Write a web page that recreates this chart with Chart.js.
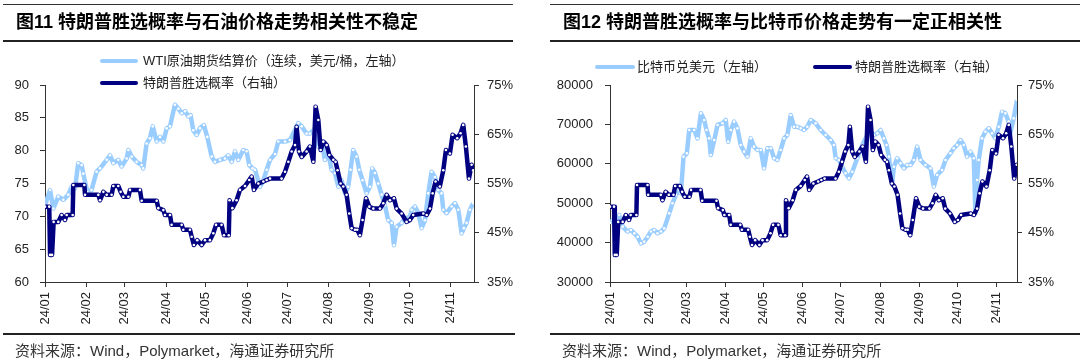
<!DOCTYPE html>
<html><head><meta charset="utf-8">
<script src="https://cdn.jsdelivr.net/npm/chart.js@4.4.1/dist/chart.umd.min.js"></script>
<style>
html,body{margin:0;padding:0;background:#fff;}
#wrap{position:relative;width:1080px;height:360px;overflow:hidden;font-family:"Liberation Sans","Noto Sans CJK SC",sans-serif;}
canvas{position:absolute;top:0;}
.title{position:absolute;top:4px;height:38px;box-sizing:border-box;border-top:1px solid #333;border-bottom:2px solid #222;font-weight:bold;font-size:18px;line-height:35px;color:#000;padding-left:13px;white-space:nowrap;}
.src{position:absolute;top:333px;height:27px;box-sizing:border-box;border-top:2px solid #222;font-size:15px;line-height:31px;color:#333;padding-left:12px;white-space:nowrap;}
.lg{position:absolute;font-size:13px;color:#222;white-space:nowrap;height:16px;line-height:16px;}
.sw{position:absolute;height:4px;border-radius:2px;}
</style></head>
<body><div id="wrap">
<canvas id="c1" width="540" height="360" style="left:0"></canvas>
<canvas id="c2" width="540" height="360" style="left:540px"></canvas>
<div class="title" style="left:3px;width:510px">图11 特朗普胜选概率与石油价格走势相关性不稳定</div>
<div class="title" style="left:550px;width:530px">图12 特朗普胜选概率与比特币价格走势有一定正相关性</div>
<div class="src" style="left:3px;width:512px">资料来源：Wind，Polymarket，海通证券研究所</div>
<div class="src" style="left:550px;width:530px">资料来源：Wind，Polymarket，海通证券研究所</div>
<div id="lg"></div>
</div>
<script>
// ---- tick labels / categories ----
const monthDays = [0,31,60,91,121,152,182,213,244,274,305]; // day-of-2024 (0 = Jan 1)
const monthLabels = ['24/01','24/02','24/03','24/04','24/05','24/06','24/07','24/08','24/09','24/10','24/11'];

// ---- Trump win probability (%), Polymarket ----
const probDays = [0,3.2,3.8,5.3,6.5,10,12.5,15,16.3,20.8,21.3,29.6,30.1,40.1,41.4,43.9,46.4,50.1,51.4,55.1,56.9,58.9,62.7,63.9,71.4,72.7,84,85.2,89,90.2,94,95.2,102.8,104,109,110.3,112,114.5,117.8,120.3,124,126.6,128.6,132.8,134.6,138.2,138.8,140.9,144.1,146.6,150.4,153.6,155.4,157.1,160.4,164.2,166.7,169.2,177.9,180.5,183,185.5,188,189.2,191,193,196.7,199.2,201.8,203.5,205.5,207.3,209.3,211.8,213.8,216.8,218.5,220,222.3,224.3,226.8,228.8,230.6,233.1,234.8,236.8,238.8,241.4,243.9,246.9,251.9,254.4,256.9,259.4,262.4,264.4,268.2,271.9,274.4,276.9,284.5,287,289.5,291.5,293.7,296.9,299.5,301.5,304.5,306.5,310,312.5,314.5,316.5,318.8,320.8,322];
const probValues = [50.3,50.3,40.5,40.5,47.2,47.2,48.6,47.6,48.6,48.6,54.7,54.7,52.7,52.7,51.6,53.3,52.7,52.7,54.5,54.5,53.3,52.3,52.3,53.7,53.7,51.5,51.5,50.0,49.6,48.6,48.6,46.6,46.6,45.6,45.6,44.2,42.5,43.5,42.5,43.5,43.5,44.9,46.6,46.6,44.5,44.5,51.6,50.0,51.6,53.7,54.5,55.7,56.4,53.7,55.0,55.4,55.7,56.0,56.0,57.4,59.4,61.5,62.8,66.5,61.5,60.4,61.5,62.5,59.4,70.6,67.9,61.8,63.5,62.8,60.8,59.8,59.4,57.7,55.0,54.4,52.7,48.9,45.9,45.6,45.6,44.5,47.6,52.0,50.3,49.9,49.9,51.0,52.7,51.6,52.0,49.9,48.9,47.2,47.6,48.6,48.9,48.6,49.9,53.0,55.4,54.4,57.7,61.8,61.1,64.9,64.2,65.2,66.9,62.5,56.0,58.8,57.7];

// ---- WTI crude futures settlement (USD/bbl) ----
const wtiDays = [0,3.8,6.3,10,13.8,17.5,20,22.6,25,27.6,28.8,31.8,35,38.8,41.4,46.4,48.9,51.4,55.1,57.6,61.4,62.7,65.2,68.9,72.7,73.9,76.4,78.9,81,84,86.5,89,91.5,94,97.7,100.3,102.8,105.3,107.8,109.5,111.5,114,116.5,119.5,122,125.3,127.8,131.6,135.3,137.8,140.4,142.9,145.4,149.1,151.6,153.6,156.1,157.9,161.7,164.2,166.7,169.2,173,175.4,180.5,184.2,188,190.5,193,196.7,199.2,201.8,205.5,208,210.5,213,215.5,218,220.6,223,225.6,228,229.8,231.8,234.3,236.3,238.8,241.8,244.4,246.1,248.1,250.6,253.1,255.6,258.1,260.7,262.4,264.4,268.2,270.7,274.4,275.7,278.2,280.7,283.2,285.7,288.2,290.7,293.2,295.7,298.2,299.5,302,305.8,308.3,310.8,313.3,315,317,319.5,322];
const wtiValues = [71.7,74.0,71.2,73.0,72.5,73.3,74.5,74.3,78.1,77.8,76.5,73.7,74.0,76.8,77.3,78.6,79.3,78.1,78.6,77.6,78.8,80.1,79.1,78.3,77.8,77.3,81.1,81.9,83.7,81.4,82.1,81.4,83.4,83.7,87.0,86.4,85.7,86.0,85.2,85.4,83.1,82.4,83.4,83.9,82.1,79.1,78.3,78.6,78.8,79.3,78.3,79.9,78.6,80.1,79.9,77.8,77.3,77.1,74.5,75.5,77.1,78.6,79.5,81.4,81.4,81.6,83.2,84.2,83.7,82.6,82.6,83.1,80.6,81.4,78.6,79.6,77.1,76.6,74.5,75.5,73.5,74.5,77.1,80.1,79.1,77.1,75.5,73.5,74.5,77.3,76.6,75.0,73.3,71.7,69.4,69.0,65.6,68.4,69.0,69.7,69.9,71.0,71.5,70.5,68.2,69.4,73.5,76.8,76.0,74.0,73.5,71.0,70.5,71.5,72.0,71.0,67.4,68.2,69.0,71.0,72.0];

// ---- Bitcoin in USD ----
const btcDays = [0,2.1,4.7,7.3,10,13.9,16.5,19.2,21.8,24.4,27,29.7,32.3,34.9,37.5,40.2,42.8,46.7,49.3,52,54.6,55.9,58,60.6,62.5,66.4,69,71.7,74.3,76.1,78.2,79.5,82.2,84.8,88.7,91.3,93.2,95.3,97.9,100.5,103.1,105.8,108.4,111,113.6,116.3,118.9,121.5,124.1,126.8,129.4,132,134.6,137.3,139.9,142.5,145.1,147.8,150.4,153,155.6,158.3,162.2,166.1,170.1,174.1,176.6,178,180.6,183.2,185.8,188.5,191.1,195,199,201.6,205.5,208.1,210.8,213.4,216,218.1,220,221.3,222.6,223.9,226.5,229.1,231.8,234.4,237,239.6,242.3,244.9,248.8,252.8,255.4,258,261.9,264.6,268.5,271.1,273.8,276.4,279,281.6,284.3,286.9,288.2,289.5,290.8,293.4,296.1,298.7,301.3,303.9,306.6,309.2,311.8,314.4,315.7,318.4,321];
const btcValues = [45000,45700,44900,47000,44050,42800,43200,42350,41500,39800,40240,41500,42800,43200,42350,42800,43600,47430,49970,52080,53350,52500,61810,62660,68580,68580,66460,72810,71120,68580,66460,62230,66040,69850,70270,71120,65620,68580,70700,69000,64770,63080,61810,66460,64350,63500,63500,58850,63930,63930,61390,60970,63500,66460,67310,72380,69420,69420,69000,68580,69420,71120,70270,68580,67310,66040,64770,61390,60970,59270,57580,56310,58000,61390,64770,66460,68160,67310,67730,68580,66460,64770,61810,57580,55040,59270,61390,60120,58850,59700,59700,60970,64350,60970,59700,58850,54200,57160,58430,60970,62660,63930,64770,66040,64770,61810,63080,61390,47430,55890,60970,66460,68160,69000,67730,66460,69420,73230,72810,70700,67730,71540,76190];

const LIGHT = '#99ccff', NAVY = '#000080';
const pts = (d, v) => d.map((x, i) => ({x, y: v[i]}));
const tickFont = {family: 'Liberation Sans', size: 13};

function axisY(pos, min, max, step, fmt, width, pad) {
  return {
    type: 'linear', position: pos, min, max,
    ticks: {stepSize: step, padding: pad, color: '#222', font: tickFont, callback: fmt},
    grid: {drawOnChartArea: false, drawTicks: true, tickLength: 5, color: '#333'},
    border: {display: true, color: '#333', width: 1},
    afterFit: s => { s.width = width; }
  };
}

function lineStyle(color) {
  return {borderColor: color, borderWidth: 4.5, tension: 0, borderJoinStyle: 'round',
          pointRadius: 1.3, pointBorderWidth: 0, pointBackgroundColor: '#ffffff'};
}

function build(id, xMax, leftSet, leftAxis, leftW, leftPad, rightW, rightPad) {
  new Chart(document.getElementById(id), {
    type: 'line',
    data: {datasets: [
      Object.assign({label: 'prob', data: pts(probDays, probValues), yAxisID: 'yR', order: 0}, lineStyle(NAVY)),
      Object.assign({label: leftSet.label, data: pts(leftSet.days, leftSet.values), yAxisID: 'yL', order: 1}, lineStyle(LIGHT))
    ]},
    options: {
      responsive: false, animation: false, devicePixelRatio: 1, events: [],
      layout: {padding: {top: 85, left: 0, right: 0, bottom: 0}},
      plugins: {legend: {display: false}, tooltip: {enabled: false}},
      scales: {
        x: {
          type: 'linear', min: 0, max: xMax,
          afterBuildTicks: s => { s.ticks = monthDays.map(v => ({value: v})); },
          ticks: {autoSkip: false, minRotation: 90, maxRotation: 90, padding: 5, color: '#222', font: tickFont,
                  callback: v => monthLabels[monthDays.indexOf(v)]},
          grid: {drawOnChartArea: false, drawTicks: true, tickLength: 5, color: '#333'},
          border: {display: true, color: '#333', width: 1},
          afterFit: s => { s.height = 78; }
        },
        yL: axisY('left', leftAxis.min, leftAxis.max, leftAxis.step, leftAxis.fmt, leftW, leftPad),
        yR: axisY('right', 35, 75, 10, v => v + '%', rightW, rightPad)
      }
    }
  });
}

build('c1', 322.6, {label: 'WTI', days: wtiDays, values: wtiValues},
      {min: 60, max: 90, step: 5, fmt: v => String(v)}, 45, 11, 66, 8);
build('c2', 321, {label: 'BTC', days: btcDays, values: btcValues},
      {min: 30000, max: 80000, step: 10000, fmt: v => String(v)}, 70, 12, 63, 6);

// ---- legends ----
const legends = [
  {x: 100, y: 61, w: 38, color: LIGHT, text: 'WTI原油期货结算价（连续，美元/桶，左轴）', tx: 143},
  {x: 100, y: 83, w: 38, color: NAVY, text: '特朗普胜选概率（右轴）', tx: 143},
  {x: 595, y: 67, w: 40, color: LIGHT, text: '比特币兑美元（左轴）', tx: 637},
  {x: 813, y: 67, w: 39, color: NAVY, text: '特朗普胜选概率（右轴）', tx: 855}
];
const lg = document.getElementById('lg');
legends.forEach(l => {
  const s = document.createElement('div'); s.className = 'sw';
  s.style.cssText = `left:${l.x}px;top:${l.y-2}px;width:${l.w}px;background:${l.color}`;
  const t = document.createElement('div'); t.className = 'lg';
  t.style.cssText = `left:${l.tx}px;top:${l.y-8}px`; t.textContent = l.text;
  lg.appendChild(s); lg.appendChild(t);
});
</script>
</body></html>
